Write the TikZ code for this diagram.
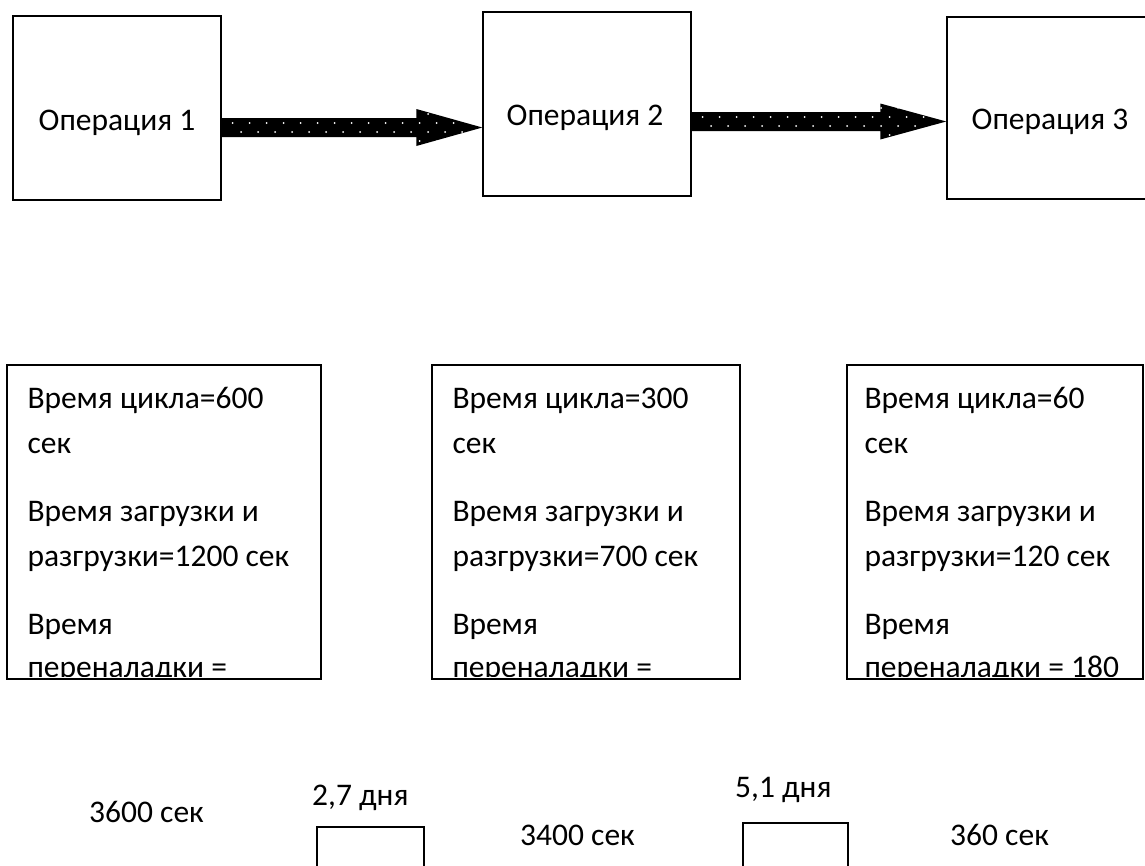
\documentclass[tikz,border=0pt]{standalone}
\usepackage{fontspec}
\setmainfont{Carlito}
\usetikzlibrary{calc}
\newcommand\arrowpath[5]{($(#1)+(0,-#3)$) -- ($(#2)+(-#5,-#3)$) -- ($(#2)+(-#5,-#4)$) -- (#2) -- ($(#2)+(-#5,#4)$) -- ($(#2)+(-#5,#3)$) -- ($(#1)+(0,#3)$) -- cycle}
\newcommand\dotarrow[5]{%
  \fill[black] \arrowpath{#1}{#2}{#3}{#4}{#5};
  \begin{scope}
    \clip \arrowpath{#1}{#2}{#3}{#4}{#5};
    \foreach \k in {0,...,5}{
      \foreach \i in {0,...,16}{
        \fill[white] ($(#1)+({11+8.5*mod(\k,2)+17*\i},{-22.5+9*\k})$) circle (1pt);
      }}
  \end{scope}}
\begin{document}
\begin{tikzpicture}[x=1pt,y=-1pt,
  box/.style={draw=black, line width=1.4pt, rectangle, inner sep=0pt},
  txt/.style={inner sep=0pt, anchor=base west, font=\fontsize{31.5}{38}\selectfont},
  optxt/.style={inner sep=0pt, anchor=base, font=\fontsize{31.5}{38}\selectfont}]
\clip (0,0) rectangle (1145,865);
\fill[white] (0,0) rectangle (1145,865);

% operation boxes
\node[box, minimum width=208pt, minimum height=184pt] (op1) at (117,108) {};
\node[box, minimum width=208pt, minimum height=184pt] (op2) at (587,104) {};
\node[box, minimum width=208pt, minimum height=182pt] (op3) at (1051,108) {};
\node[optxt] (t1) at ($(op1.center)+(0,22)$) {Операция 1};
\node[optxt] (t2) at ($(op2.center)+(-2,21)$) {Операция 2};
\node[optxt] (t3) at ($(op3.center)+(-1,21)$) {Операция 3};

% fat dotted arrows
\coordinate (a1s) at ($(op1.east)+(0,19.5)$);
\coordinate (a1e) at ($(op2.west)+(0,23.5)$);
\dotarrow{a1s}{a1e}{9.5}{18.5}{66}
\coordinate (a2s) at ($(op2.east)+(0,17.5)$);
\coordinate (a2e) at ($(op3.west)+(0,13.5)$);
\dotarrow{a2s}{a2e}{9.5}{18}{66}

% info boxes
\node[box, minimum width=314pt, minimum height=314pt] (i1) at (164,522) {};
\node[box, minimum width=308pt, minimum height=314pt] (i2) at (586,522) {};
\node[box, minimum width=296pt, minimum height=314pt] (i3) at (995,522) {};

\begin{scope}
  \clip ($(i1.south west)+(0,-3)$) rectangle (i1.north east);
  \node[txt] at ($(i1.north west)+(21,44)$) {Время цикла=600};
  \node[txt] at ($(i1.north west)+(21,89)$) {сек};
  \node[txt] at ($(i1.north west)+(21,157)$) {Время загрузки и};
  \node[txt] at ($(i1.north west)+(21,202)$) {разгрузки=1200 сек};
  \node[txt] at ($(i1.north west)+(21,270)$) {Время};
  \node[txt] at ($(i1.north west)+(21,313)$) {переналадки =};
\end{scope}
\begin{scope}
  \clip ($(i2.south west)+(0,-3)$) rectangle (i2.north east);
  \node[txt] at ($(i2.north west)+(21,44)$) {Время цикла=300};
  \node[txt] at ($(i2.north west)+(21,89)$) {сек};
  \node[txt] at ($(i2.north west)+(21,157)$) {Время загрузки и};
  \node[txt] at ($(i2.north west)+(21,202)$) {разгрузки=700 сек};
  \node[txt] at ($(i2.north west)+(21,270)$) {Время};
  \node[txt] at ($(i2.north west)+(21,313)$) {переналадки =};
\end{scope}
\begin{scope}
  \clip ($(i3.south west)+(0,-3)$) rectangle (i3.north east);
  \node[txt] at ($(i3.north west)+(18,44)$) {Время цикла=60};
  \node[txt] at ($(i3.north west)+(18,89)$) {сек};
  \node[txt] at ($(i3.north west)+(18,157)$) {Время загрузки и};
  \node[txt] at ($(i3.north west)+(18,202)$) {разгрузки=120 сек};
  \node[txt] at ($(i3.north west)+(18,270)$) {Время};
  \node[txt] at ($(i3.north west)+(18,313)$) {переналадки = 180};
\end{scope}

% bottom row
\node[txt] (b1) at (89,822) {3600 сек};
\node[txt] (b2) at (312,805) {2,7 дня};
\node[box, minimum width=107pt, minimum height=80pt] (s1) at (370.5,867) {};
\node[txt] (b3) at (520,845) {3400 сек};
\node[txt] (b4) at (735,797) {5,1 дня};
\node[box, minimum width=105pt, minimum height=80pt] (s2) at (795.5,863) {};
\node[txt] (b5) at (950,845) {360 сек};
\end{tikzpicture}
\end{document}
